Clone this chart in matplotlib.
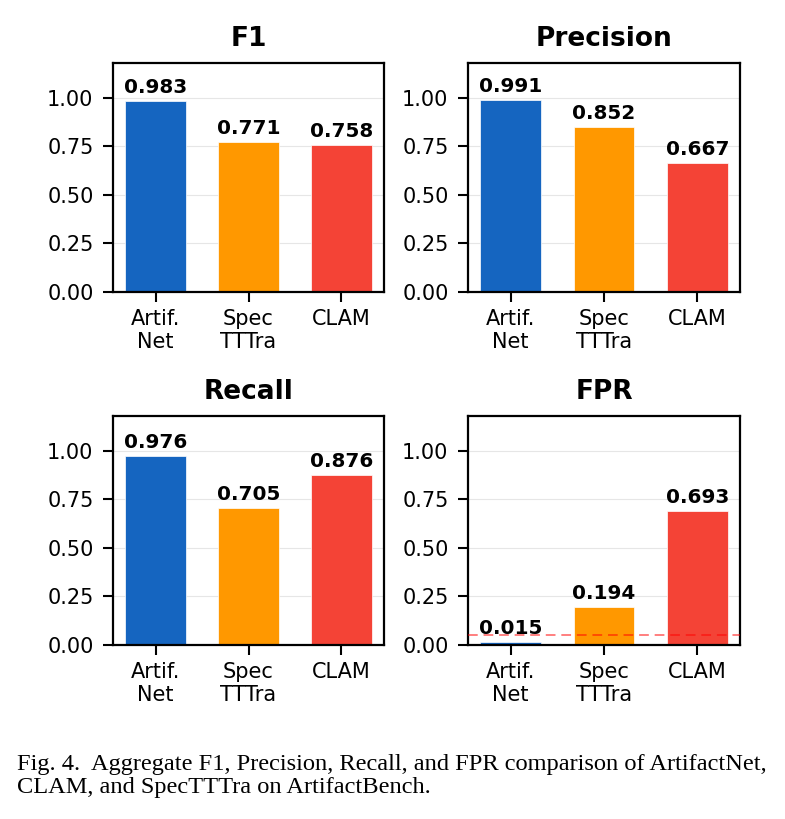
import matplotlib
matplotlib.use("Agg")
import matplotlib.pyplot as plt
import numpy as np

models = ["Artif.\nNet", "Spec\nTTTra", "CLAM"]
colors = ["#1565C0", "#FF9800", "#F44336"]

metric_names = ["F1", "Precision", "Recall", "FPR"]
f1 = [0.983, 0.771, 0.758]
precision = [0.991, 0.852, 0.667]
recall = [0.976, 0.705, 0.876]
fpr = [0.015, 0.194, 0.693]
fpr_ref = 0.05

caption = ("Fig. 4.  Aggregate F1, Precision, Recall, and FPR comparison of ArtifactNet,\n"
           "CLAM, and SpecTTTra on ArtifactBench.")

fig = plt.figure(figsize=(7.85, 8.19), dpi=100)

# positions des axes (fraction de la figure)
boxes = [
    [113 / 785, 1 - 292 / 819, 271 / 785, 229 / 819],
    [468 / 785, 1 - 292 / 819, 272 / 785, 229 / 819],
    [113 / 785, 1 - 645 / 819, 271 / 785, 229 / 819],
    [468 / 785, 1 - 645 / 819, 272 / 785, 229 / 819],
]

all_values = [f1, precision, recall, fpr]
x = np.arange(len(models))

for name, vals, box in zip(metric_names, all_values, boxes):
    ax = fig.add_axes(box)
    ax.bar(x, vals, width=0.65, color=colors, edgecolor="white", linewidth=0.5, zorder=2)
    for xi, v in zip(x, vals):
        ax.text(xi, v + 0.02, f"{v:.3f}", ha="center", va="bottom",
                fontsize=14.4, fontweight="bold")
    if name == "FPR":
        ax.axhline(fpr_ref, color="red", linestyle=(0, (5, 3)), alpha=0.5, linewidth=1.4, zorder=3)
    ax.set_ylim(0, 1.18)
    ax.set_yticks([0, 0.25, 0.5, 0.75, 1.0])
    ax.set_yticklabels(["0.00", "0.25", "0.50", "0.75", "1.00"])
    ax.set_xticks(x)
    ax.set_xticklabels(models)
    ax.tick_params(labelsize=15, width=1.5, length=7)
    ax.tick_params(axis="y", pad=7)
    ax.tick_params(axis="x", pad=5)
    ax.yaxis.grid(True, color="#e6e6e6", linewidth=0.8, zorder=0)
    ax.set_axisbelow(True)
    for s in ax.spines.values():
        s.set_linewidth(1.6)
    ax.set_title(name, fontsize=19, fontweight="bold", pad=12)

fig.text(17 / 785, 1 - 754 / 819, caption, family="Liberation Serif", fontsize=17.6,
         va="top", ha="left", linespacing=1.1)

fig.savefig("out.png", dpi=100)
